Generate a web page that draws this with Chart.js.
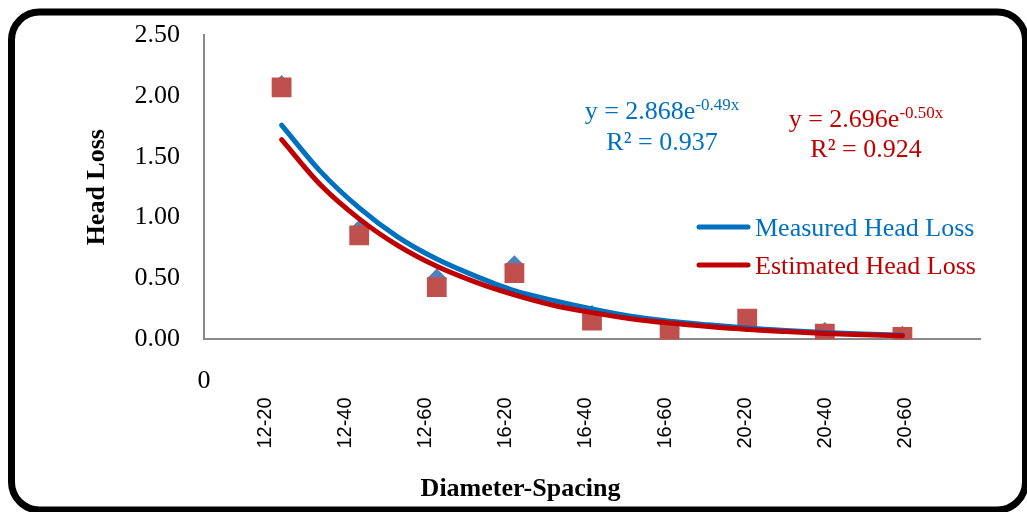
<!DOCTYPE html>
<html>
<head>
<meta charset="utf-8">
<script src="https://cdn.jsdelivr.net/npm/chart.js@4.4.1/dist/chart.umd.min.js"></script>
<style>
html,body{margin:0;padding:0;background:#fff;}
#wrap{width:1027px;height:512px;position:relative;}
canvas{display:block;}
</style>
</head>
<body>
<div id="wrap"><canvas id="c" width="1027" height="512"></canvas></div>
<script>
// ---- data ----
const categories = ['12-20','12-40','12-60','16-20','16-40','16-60','20-20','20-40','20-60'];
const positions = [1,2,3,4,5,6,7,8,9];
const measured = [2.09, 0.90, 0.50, 0.61, 0.20, 0.09, 0.17, 0.06, 0.03];
const estimated = [2.07, 0.855, 0.43, 0.545, 0.155, 0.07, 0.17, 0.047, 0.02];
// trend curves
const trendPositions = [1, 1.5, 2, 2.5, 3, 3.5, 4, 4.5, 5, 5.5, 6, 6.5, 7, 7.5, 8, 8.5, 9];
const measuredTrend = [1.76, 1.38, 1.08, 0.84, 0.66, 0.52, 0.40, 0.32, 0.25, 0.19, 0.15, 0.12, 0.093, 0.073, 0.057, 0.045, 0.035];
const estimatedTrend = [1.64, 1.27, 0.99, 0.77, 0.60, 0.47, 0.365, 0.28, 0.22, 0.17, 0.134, 0.105, 0.081, 0.064, 0.049, 0.039, 0.030];
const yTickValues = [0, 0.5, 1.0, 1.5, 2.0, 2.5];
const measuredEq = ['y = 2.868e', '-0.49x', 'R\u00B2 = 0.937'];
const estimatedEq = ['y = 2.696e', '-0.50x', 'R\u00B2 = 0.924'];
const seriesNames = ['Measured Head Loss', 'Estimated Head Loss'];

const BLUE = '#0070C0', RED = '#C00000';
const SERIF = '"Liberation Serif", "Times New Roman", serif';
const SANS = '"Liberation Sans", Arial, sans-serif';

const pts = (xs, arr) => xs.map((p, i) => ({x: p, y: arr[i]}));

function drawEq(ctx, cx, base1, base2, eq, color) {
  ctx.save();
  ctx.fillStyle = color;
  ctx.textBaseline = 'alphabetic';
  ctx.textAlign = 'left';
  ctx.font = '26px ' + SERIF;
  const w1 = ctx.measureText(eq[0]).width;
  ctx.font = '17px ' + SERIF;
  const w2 = ctx.measureText(eq[1]).width;
  const x0 = cx - (w1 + w2) / 2;
  ctx.font = '26px ' + SERIF;
  ctx.fillText(eq[0], x0, base1);
  ctx.font = '17px ' + SERIF;
  ctx.fillText(eq[1], x0 + w1, base1 - 9);
  ctx.font = '26px ' + SERIF;
  ctx.textAlign = 'center';
  ctx.fillText(eq[2], cx, base2);
  ctx.restore();
}

const decor = {
  id: 'decor',
  beforeDraw(chart) {
    const ctx = chart.ctx;
    ctx.save();
    ctx.fillStyle = '#fff';
    ctx.fillRect(0, 0, chart.width, chart.height);
    ctx.strokeStyle = '#000';
    ctx.lineWidth = 7;
    ctx.beginPath();
    ctx.roundRect(11.5, 12, 1014, 498, 28);
    ctx.stroke();
    ctx.restore();
  },
  afterDraw(chart) {
    const ctx = chart.ctx;
    drawEq(ctx, 662, 119, 150, measuredEq, BLUE);
    drawEq(ctx, 866, 127, 157, estimatedEq, RED);
    const leg = [[seriesNames[0], BLUE, 227, 236], [seriesNames[1], RED, 265, 274]];
    ctx.save();
    leg.forEach(([t, c, ly, tb]) => {
      ctx.strokeStyle = c;
      ctx.lineWidth = 5;
      ctx.lineCap = 'round';
      ctx.beginPath();
      ctx.moveTo(699, ly);
      ctx.lineTo(748, ly);
      ctx.stroke();
      ctx.fillStyle = c;
      ctx.font = '26px ' + SERIF;
      ctx.textAlign = 'left';
      ctx.textBaseline = 'alphabetic';
      ctx.fillText(t, 755, tb);
    });
    const xs = chart.scales.x;
    ctx.fillStyle = '#000';
    ctx.font = '26px ' + SERIF;
    ctx.textAlign = 'center';
    ctx.fillText('0', xs.getPixelForValue(0), 388);
    ctx.restore();
  }
};

new Chart(document.getElementById('c'), {
  type: 'scatter',
  data: {
    datasets: [
      { label: seriesNames[1] + ' trend', data: pts(trendPositions, estimatedTrend), showLine: true, borderColor: RED, borderWidth: 5, borderCapStyle: 'round', pointRadius: 0, cubicInterpolationMode: 'monotone', fill: false },
      { label: seriesNames[0] + ' trend', data: pts(trendPositions, measuredTrend), showLine: true, borderColor: BLUE, borderWidth: 5, borderCapStyle: 'round', pointRadius: 0, cubicInterpolationMode: 'monotone', fill: false },
      { label: seriesNames[1], data: pts(positions, estimated), pointStyle: 'rect', pointRadius: 14, backgroundColor: '#C0504D', borderColor: '#C0504D', borderWidth: 0, showLine: false },
      { label: seriesNames[0], data: pts(positions, measured), pointStyle: 'rectRot', pointRadius: 10, backgroundColor: '#4F81BD', borderColor: '#4F81BD', borderWidth: 0, showLine: false }
    ]
  },
  options: {
    responsive: false,
    devicePixelRatio: 1,
    animation: false,
    events: [],
    layout: { padding: { left: 14, right: 0, top: 35, bottom: 0 } },
    plugins: {
      legend: { display: false },
      tooltip: { enabled: false },
      title: { display: true, position: 'bottom', text: 'Diameter-Spacing', color: '#000', font: { family: SERIF, size: 26, weight: 'bold' }, padding: { top: 0, bottom: 7 } }
    },
    scales: {
      x: { type: 'linear', display: false, min: 0, max: 10 },
      xLab: {
        type: 'linear', position: 'bottom', min: 0.2375, max: 9.9375,
        grid: { display: false, drawTicks: false },
        border: { display: true, color: '#898989', width: 2 },
        afterBuildTicks: (scale) => { scale.ticks = positions.map(v => ({ value: v })); },
        afterFit: (scale) => { scale.height = 134.4; },
        ticks: { autoSkip: false, maxRotation: 90, minRotation: 90, padding: 58, color: '#000', font: { family: SANS, size: 20 }, callback: (v) => categories[v - 1] }
      },
      y: {
        type: 'linear', position: 'left', min: 0, max: 2.5,
        grid: { display: false, drawTicks: false },
        border: { display: true, color: '#898989', width: 2 },
        afterBuildTicks: (scale) => { scale.ticks = yTickValues.map(v => ({ value: v })); },
        afterFit: (scale) => { scale.width = 190; scale.paddingTop = 0; scale.paddingBottom = 0; },
        ticks: { padding: 24, color: '#000', font: { family: SERIF, size: 26 }, callback: (v) => Number(v).toFixed(2) },
        title: { display: true, text: 'Head Loss', color: '#000', font: { family: SERIF, size: 26, weight: 'bold' }, padding: { top: 68, bottom: 0 } }
      },
      yR: {
        type: 'linear', position: 'right', min: 0, max: 1,
        grid: { display: false, drawTicks: false },
        border: { display: false },
        ticks: { display: false },
        afterFit: (scale) => { scale.width = 47; scale.paddingTop = 0; scale.paddingBottom = 0; }
      }
    }
  },
  plugins: [decor]
});
</script>
</body>
</html>
